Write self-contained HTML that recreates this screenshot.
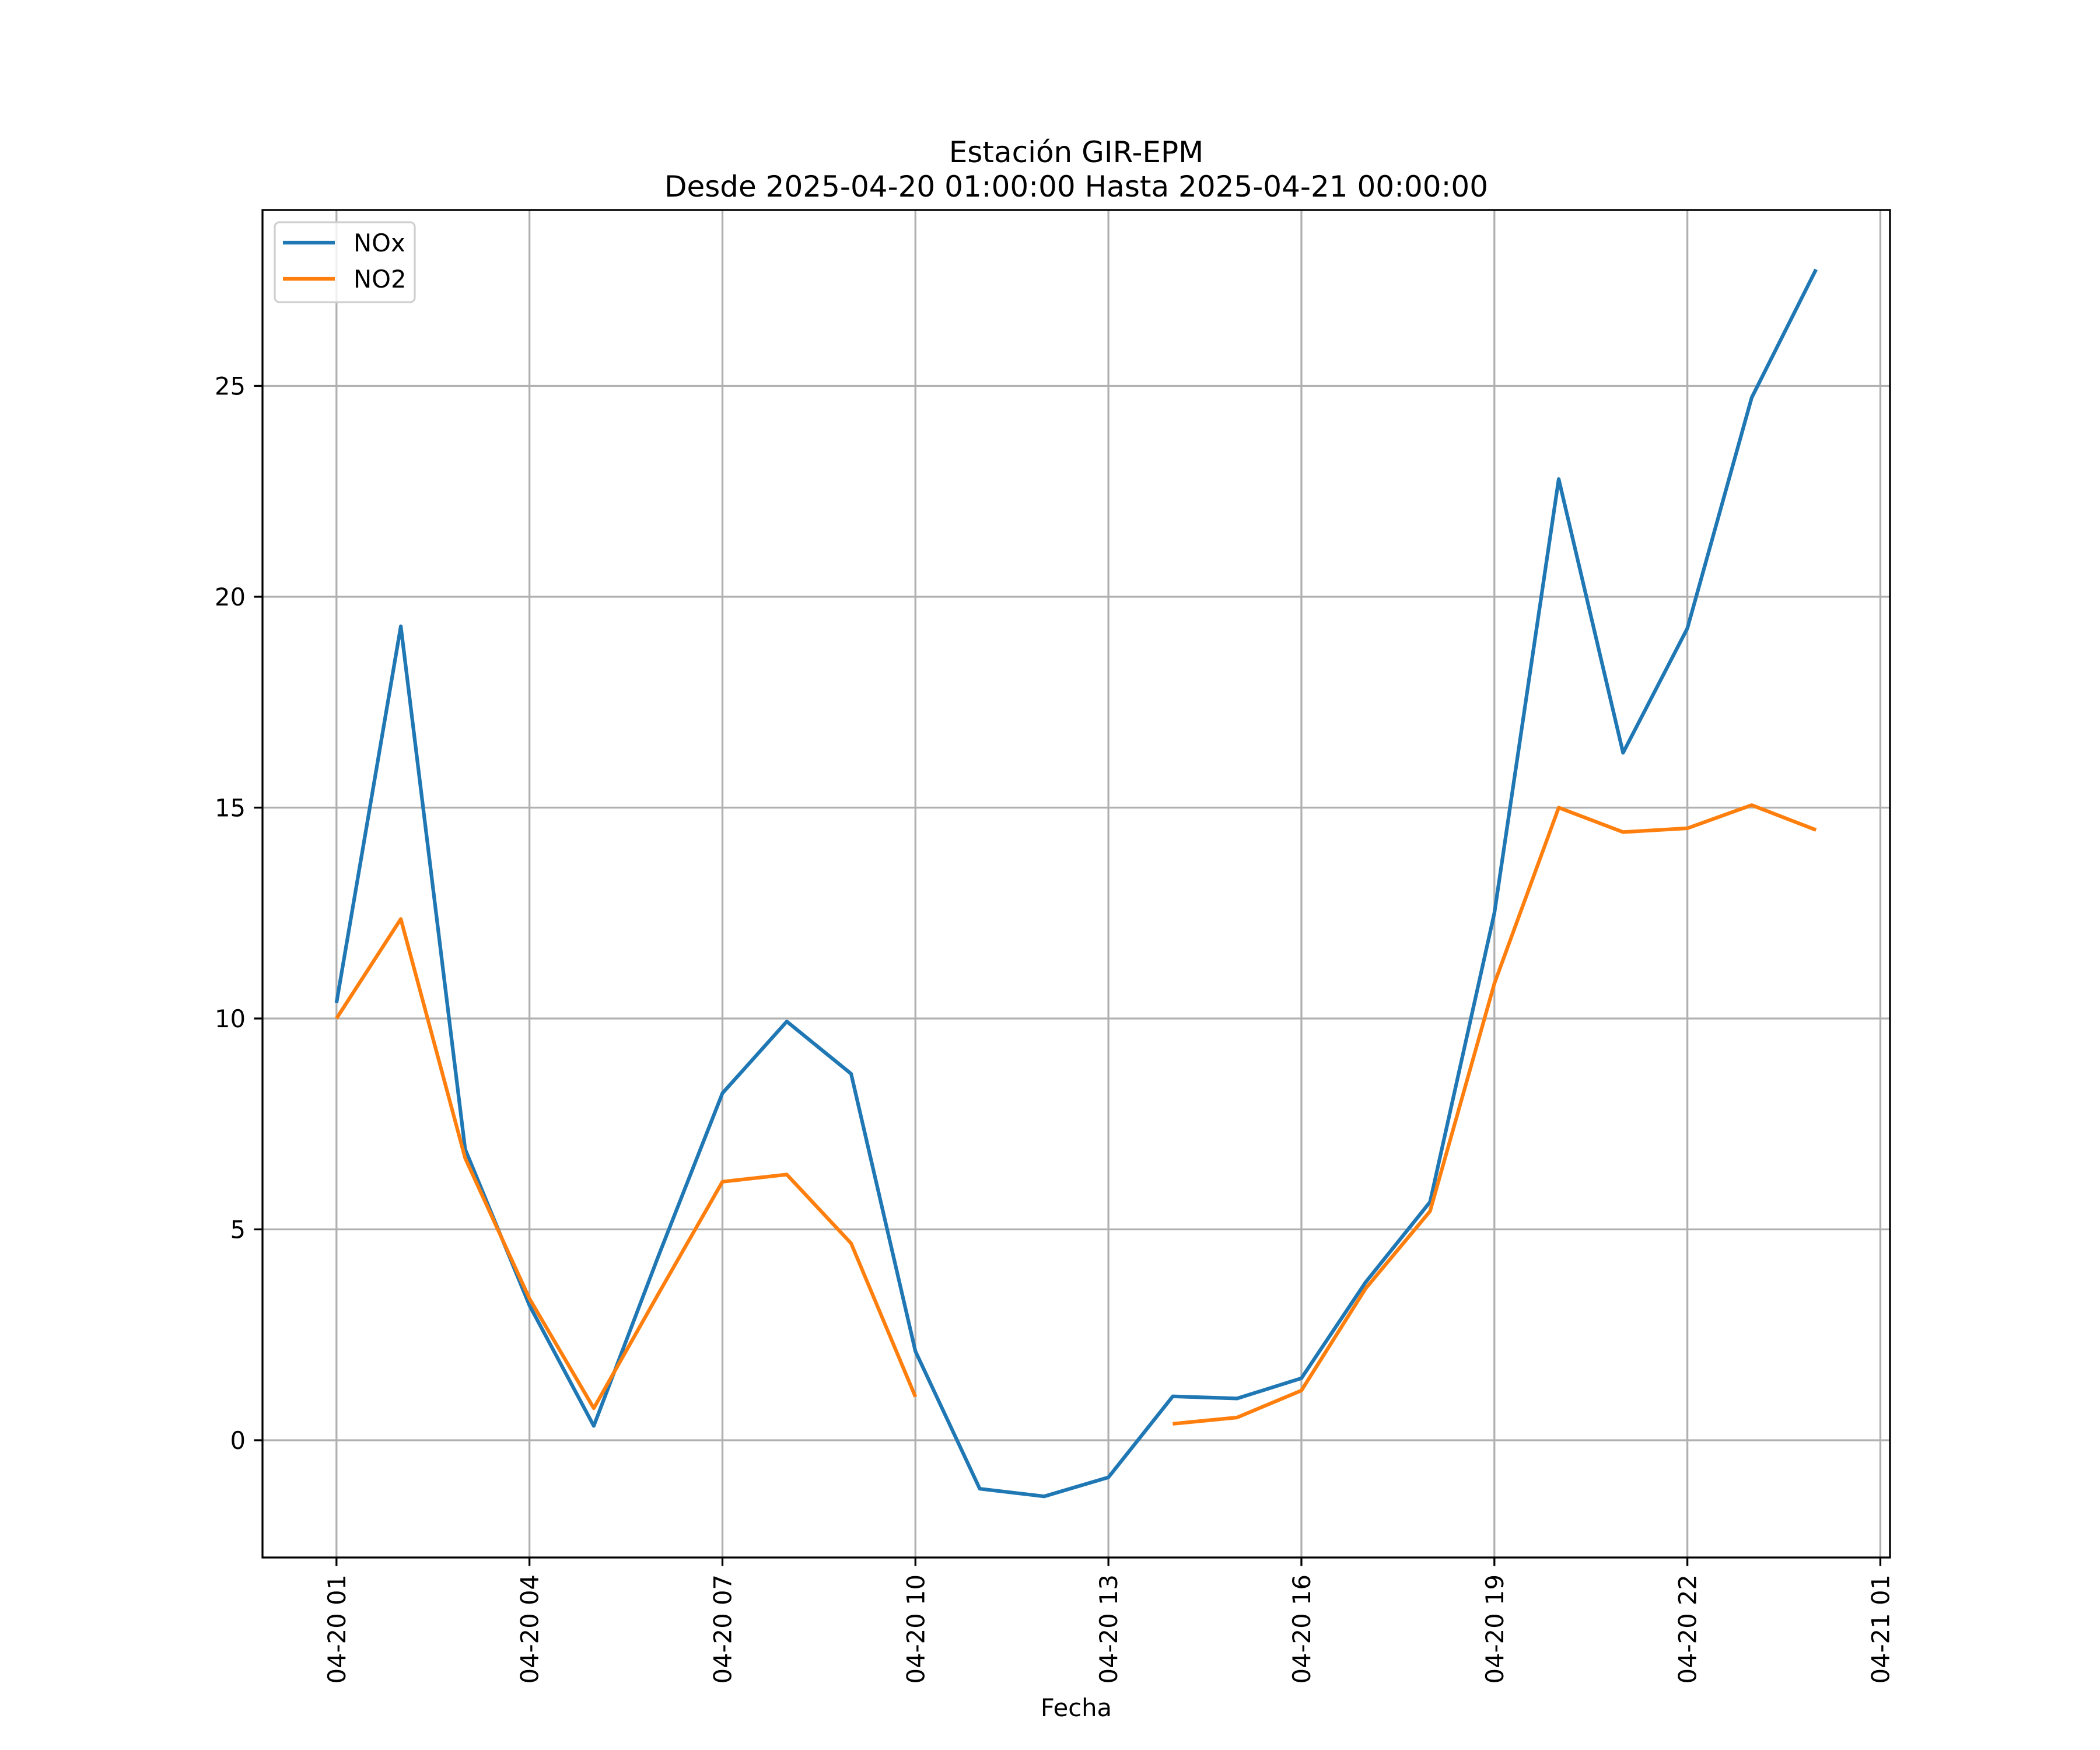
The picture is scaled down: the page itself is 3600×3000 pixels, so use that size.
<!DOCTYPE html>
<html><head><meta charset="utf-8"><style>
html,body{margin:0;padding:0;background:#fff;}
svg{display:block;font-family:"DejaVu Sans","Liberation Sans",sans-serif;}
</style></head><body>
<svg id="chart" width="3600" height="3000" viewBox="0 0 3600 3000" xmlns="http://www.w3.org/2000/svg">
<rect width="3600" height="3000" fill="#fff"/>
<text x="1845" y="278" font-size="50" text-anchor="middle">Estación GIR-EPM</text>
<text x="1845" y="337" font-size="50" text-anchor="middle">Desde 2025-04-20 01:00:00 Hasta 2025-04-21 00:00:00</text>
<g id="grid"></g>
<g id="series"></g>
<rect x="450" y="360" width="2790" height="2310" fill="none" stroke="#000" stroke-width="3.3"/>
<g id="xticks"></g>
<g id="yticks"></g>
<text x="1845" y="2942" font-size="41.7" text-anchor="middle">Fecha</text>
<g>
<rect x="471" y="381" width="240" height="137" rx="8" fill="#fff" fill-opacity="0.8" stroke="#d0d0d0" stroke-width="3.3"/>
<line x1="485" y1="416" x2="574" y2="416" stroke="#1f77b4" stroke-width="6.25"/>
<text x="606" y="431" font-size="41.7">NOx</text>
<line x1="485" y1="478" x2="574" y2="478" stroke="#ff7f0e" stroke-width="6.25"/>
<text x="606" y="493" font-size="41.7">NO2</text>
</g>
</svg>
<script>
const hours = [1,2,3,4,5,6,7,8,9,10,11,12,13,14,15,16,17,18,19,20,21,22,23,24];
const noxValues = [10.37,19.3,6.9,3.2,0.34,4.35,8.23,9.93,8.69,2.11,-1.15,-1.33,-0.88,1.04,0.99,1.47,3.75,5.65,12.5,22.79,16.3,19.25,24.72,27.76];
const no2Values = [10.0,12.36,6.69,3.36,0.76,3.46,6.13,6.3,4.67,1.03,null,null,null,0.39,0.54,1.18,3.6,5.43,10.83,15.0,14.42,14.51,15.06,14.47];
const xTickHours = [1,4,7,10,13,16,19,22,25];
const xTickLabels = ["04-20 01","04-20 04","04-20 07","04-20 10","04-20 13","04-20 16","04-20 19","04-20 22","04-21 01"];
const yTickValues = [0,5,10,15,20,25];

const L=450,R=3240,T=360,B=2670;
const xMin=-0.15,xMax=25.15,yMin=-2.78,yMax=29.17;
const sx=h=>L+(h-xMin)/(xMax-xMin)*(R-L);
const sy=v=>B-(v-yMin)/(yMax-yMin)*(B-T);
const NS="http://www.w3.org/2000/svg";
function mk(tag,attrs,parent){const e=document.createElementNS(NS,tag);for(const k in attrs)e.setAttribute(k,attrs[k]);parent.appendChild(e);return e;}
const grid=document.getElementById('grid'),xt=document.getElementById('xticks'),yt=document.getElementById('yticks'),ser=document.getElementById('series');
xTickHours.forEach((h,i)=>{
  const x=sx(h);
  const g=mk('line',{x1:x,y1:T,x2:x,y2:B,stroke:'#b0b0b0','stroke-width':3.3},grid);
  
  
  const t=mk('line',{x1:x,y1:B,x2:x,y2:B+14.6,stroke:'#000','stroke-width':3.3},xt);
  
  
  const lb=mk('text',{x:0,y:0,'font-size':41.7,'text-anchor':'end',transform:`translate(${x+15},${B+29}) rotate(-90)`},xt);
  lb.textContent=xTickLabels[i];
  
  
});
yTickValues.forEach(v=>{
  const y=sy(v);
  const g=mk('line',{x1:L,y1:y,x2:R,y2:y,stroke:'#b0b0b0','stroke-width':3.3},grid);
  
  
  const t=mk('line',{x1:L-14.6,y1:y,x2:L,y2:y,stroke:'#000','stroke-width':3.3},yt);
  
  
  const lb=mk('text',{x:L-29,y:y+15,'font-size':41.7,'text-anchor':'end'},yt);
  lb.textContent=String(v);
  
  
});
function drawSeries(vals,color,name){
  let d='',pen=false;
  vals.forEach((v,i)=>{
    if(v===null){pen=false;return;}
    d+=(pen?'L':'M')+sx(hours[i]).toFixed(1)+' '+sy(v).toFixed(1)+' ';pen=true;
  });
  const p=mk('path',{d:d,fill:'none',stroke:color,'stroke-width':6.25,'stroke-linejoin':'round','stroke-linecap':'butt'},ser);
  
  
}
drawSeries(noxValues,'#1f77b4','nox-line');
drawSeries(no2Values,'#ff7f0e','no2-line');
</script>
</body></html>
